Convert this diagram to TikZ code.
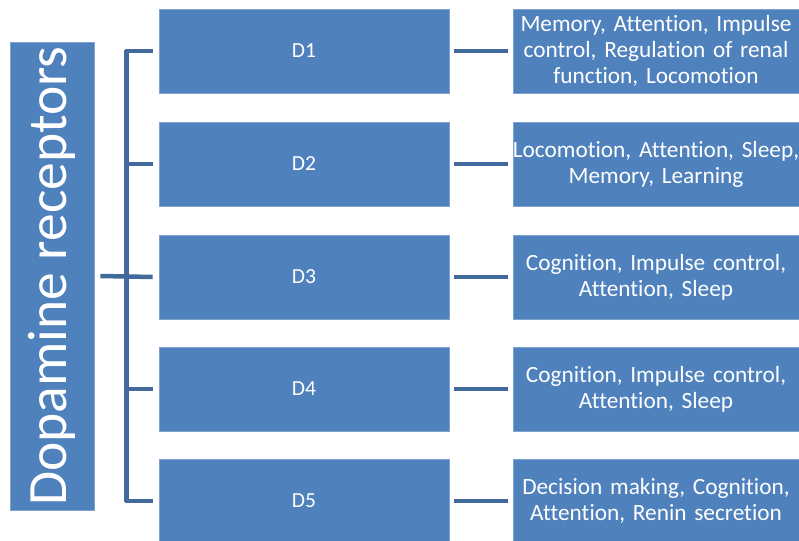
\documentclass[tikz,border=0pt]{standalone}
\usepackage{fontspec}
\setmainfont[RawFeature={-liga,-clig,-dlig}]{Carlito}
\definecolor{boxblue}{HTML}{4F81BD}
\definecolor{edgeblue}{HTML}{7FA2CF}
\definecolor{lineblue}{HTML}{41699C}
\begin{document}
\begin{tikzpicture}[x=1pt,y=-1pt,
  bluebox/.style={draw=edgeblue,line width=0.8pt,fill=boxblue,inner sep=0pt,anchor=center},
  dbox/.style={bluebox,minimum width=290,minimum height=84},
  rbox/.style={bluebox,minimum width=290,minimum height=84},
  wtext/.style={text=white,font=\fontsize{23.3}{26}\selectfont,align=center,inner sep=0pt},
  conn/.style={draw=lineblue,line width=4.5pt,line join=round}]
\useasboundingbox (0,0) rectangle (799,540);
\node[bluebox,minimum width=84,minimum height=468] (dr) at (52,276) {};
\node[text=white,font=\fontsize{55.5}{60}\selectfont,rotate=90,inner sep=0pt] at (dr) {Dopamine receptors};
\foreach \i/\y in {1/51,2/164,3/277,4/389,5/501}{
  \node[dbox] (d\i) at (304,\y) {};
  \node[wtext,font=\fontsize{21.5}{25}\selectfont] at (d\i) {D\i};
  \node[rbox] (r\i) at (658,\y) {};
  \draw[conn] ([xshift=5]d\i.east) -- ([xshift=-5]r\i.west);
}
\node[wtext,text width=310] at ([xshift=-2]r1.center) {Memory, Attention, Impulse\\control, Regulation of renal\\function, Locomotion};
\node[wtext,text width=310] at ([xshift=-2]r2.center) {Locomotion, Attention, Sleep,\\Memory, Learning};
\node[wtext,text width=310] at ([xshift=-2]r3.center) {Cognition, Impulse control,\\Attention, Sleep};
\node[wtext,text width=310] at ([xshift=-2]r4.center) {Cognition, Impulse control,\\Attention, Sleep};
\node[wtext,text width=310] at ([xshift=-2]r5.center) {Decision making, Cognition,\\Attention, Renin secretion};
\coordinate (sp1) at ([xshift=-32]d1.west);
\coordinate (sp5) at ([xshift=-32]d5.west);
\draw[conn] ([xshift=-6]d1.west) -- (sp1) -- (sp5) -- ([xshift=-6]d5.west);
\draw[conn] ([xshift=6]dr.east) -- ([xshift=-6]d3.west);
\draw[conn] ([xshift=-6]d2.west) -- ([xshift=-32]d2.west);
\draw[conn] ([xshift=-6]d4.west) -- ([xshift=-32]d4.west);
\end{tikzpicture}
\end{document}
